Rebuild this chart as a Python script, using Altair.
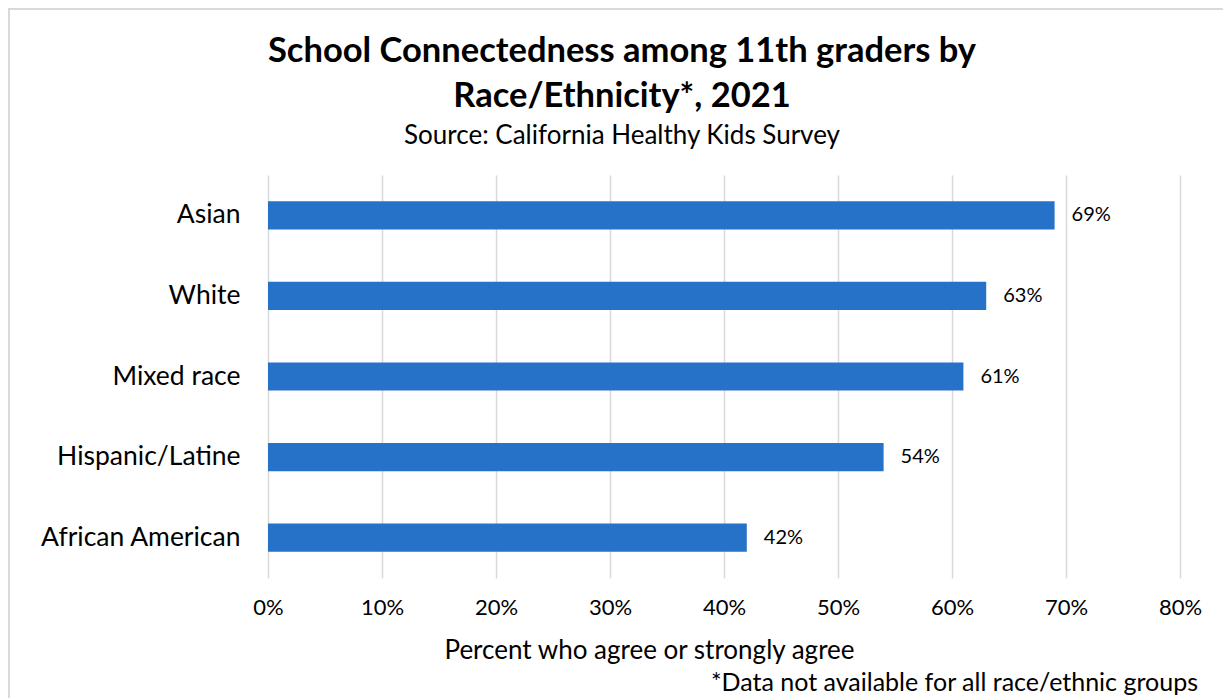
import altair as alt
import pandas as pd

categories = ["Asian", "White", "Mixed race", "Hispanic/Latine", "African American"]
values = [69, 63, 61, 54, 42]
labels = ["69%", "63%", "61%", "54%", "42%"]

title_lines = ["School Connectedness among 11th graders by", "Race/Ethnicity*, 2021"]
subtitle = "Source: California Healthy Kids Survey"
footnote = "*Data not available for all race/ethnic groups"
x_title = "Percent who agree or strongly agree"

df = pd.DataFrame({"group": categories, "pct": values, "label": labels})

FONT = "Lato"
LEFT, TOP = 260, 167  # padding so plot area starts at (268, 175)
W, H = 912, 403

base = alt.Chart(df)

bars = base.mark_bar(color="#2672C8").encode(
    x=alt.X(
        "pct:Q",
        scale=alt.Scale(domain=[0, 80], nice=False),
        axis=alt.Axis(
            values=[0, 10, 20, 30, 40, 50, 60, 70, 80],
            labelExpr="datum.value + '%'",
            labelFlush=False,
            title=x_title,
            titleFont=FONT,
            titleFontSize=26,
            titleFontWeight="normal",
            titleColor="#000000",
            titleX=381,
            titleY=80,
            titleBaseline="alphabetic",
            titleAnchor="middle",
            labelFont=FONT,
            labelFontSize=22,
            labelColor="#000000",
            labelPadding=19,
            ticks=False,
            domain=False,
            grid=True,
            gridColor="#d9d9d9",
            gridWidth=1.5,
        ),
    ),
    y=alt.Y(
        "group:N",
        sort=categories,
        scale=alt.Scale(paddingInner=0.65, paddingOuter=0.325),
        axis=alt.Axis(
            title=None,
            labelFont=FONT,
            labelFontSize=26.5,
            labelColor="#000000",
            labelPadding=28,
            labelLimit=400,
            ticks=False,
            domain=False,
            grid=False,
        ),
    ),
)

text = base.mark_text(
    align="left", baseline="middle", dx=17, font=FONT, fontSize=20, color="#000000"
).encode(
    x=alt.X("pct:Q"),
    y=alt.Y("group:N", sort=categories),
    text="label:N",
)

head_df = pd.DataFrame({"t": title_lines + [subtitle]})

title1 = alt.Chart(head_df.iloc[[0]]).mark_text(
    align="center", baseline="middle", font=FONT, fontSize=34.5, fontWeight="bold", color="#000000"
).encode(x=alt.value(354), y=alt.value(-123), text="t:N")
title2 = alt.Chart(head_df.iloc[[1]]).mark_text(
    align="center", baseline="middle", font=FONT, fontSize=34.5, fontWeight="bold", color="#000000"
).encode(x=alt.value(354), y=alt.value(-78), text="t:N")
sub = alt.Chart(head_df.iloc[[2]]).mark_text(
    align="center", baseline="middle", font=FONT, fontSize=26, color="#000000"
).encode(x=alt.value(354), y=alt.value(-39), text="t:N")

foot_df = pd.DataFrame({"t": [footnote]})
foot = alt.Chart(foot_df).mark_text(
    align="right", baseline="alphabetic", font=FONT, fontSize=25, color="#000000"
).encode(
    x=alt.value(930),
    y=alt.value(516),
    text="t:N",
)

border = alt.Chart(foot_df).mark_rect(
    fill="transparent", stroke="#d9d9d9", strokeWidth=2
).encode(
    x=alt.value(-259),
    x2=alt.value(1000),
    y=alt.value(-166),
    y2=alt.value(600),
)

chart = (
    alt.layer(border, bars, text, title1, title2, sub, foot)
    .properties(
        width=W,
        height=H,
        autosize=alt.AutoSizeParams(type="none"),
        padding={"left": LEFT, "top": TOP, "right": 43, "bottom": 120},
    )
    .configure_view(stroke=None)
)

chart.save("out.html", embed_options={"renderer": "svg", "actions": False})
